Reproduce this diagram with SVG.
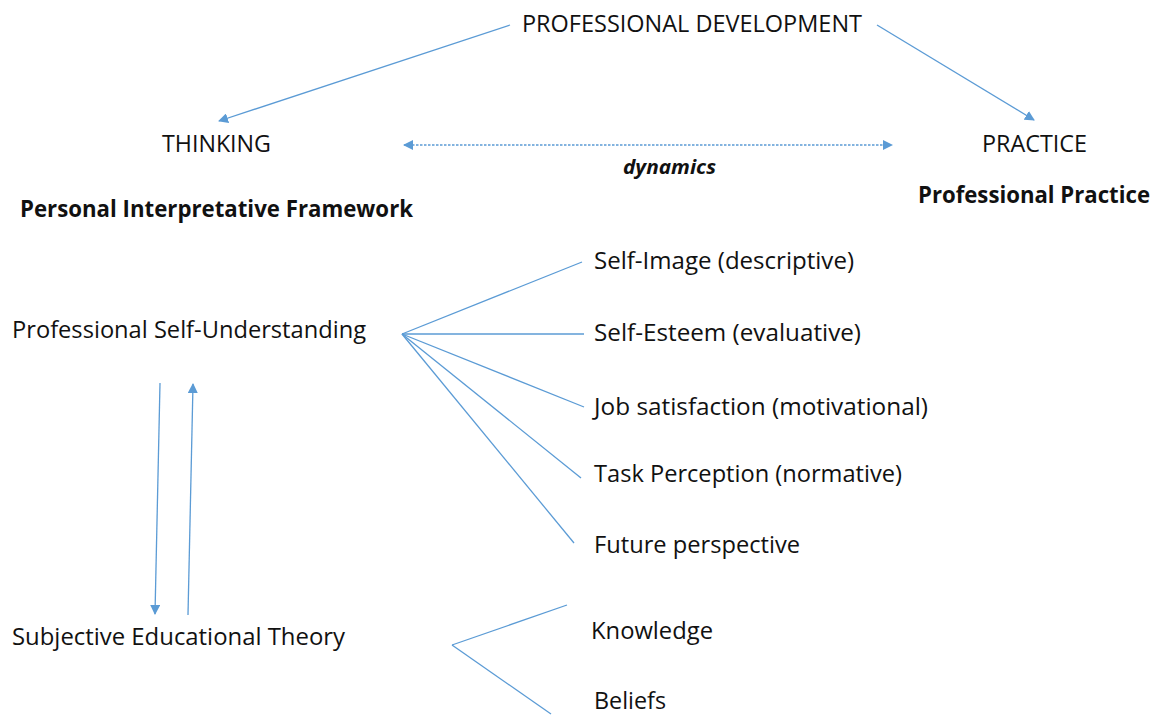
<svg xmlns="http://www.w3.org/2000/svg" width="1159" height="715" viewBox="0 0 1159 715">
<style>
text{font-family:"Open Sans","Liberation Sans",sans-serif;font-size:23px;fill:#111}
.b{font-weight:bold}
.bi{font-weight:bold;font-style:italic;font-size:19px}
.c{stroke:#5b9bd5;stroke-width:1.3;fill:none}
.d{stroke-dasharray:2.5 1.5}
</style>
<defs>
<marker id="ah" viewBox="0 0 10 10" refX="9" refY="5" markerWidth="10" markerHeight="10" markerUnits="userSpaceOnUse" orient="auto-start-reverse">
<path d="M0,0 L10,5 L0,10 z" fill="#5b9bd5"/>
</marker>
</defs>
<rect width="1159" height="715" fill="#fff"/>
<g id="connectors">
<line class="c" x1="510" y1="25" x2="219" y2="121" marker-end="url(#ah)"/>
<line class="c" x1="877" y1="25" x2="1034" y2="120" marker-end="url(#ah)"/>
<line class="c d" x1="404" y1="145" x2="892" y2="145" marker-start="url(#ah)" marker-end="url(#ah)"/>
<line class="c" x1="402" y1="334" x2="582" y2="262"/>
<line class="c" x1="402" y1="334" x2="584" y2="334"/>
<line class="c" x1="402" y1="334" x2="584" y2="407"/>
<line class="c" x1="402" y1="334" x2="581" y2="478"/>
<line class="c" x1="402" y1="334" x2="574" y2="543"/>
<line class="c" x1="160" y1="383" x2="155" y2="614" marker-end="url(#ah)"/>
<line class="c" x1="188" y1="615" x2="193" y2="384" marker-end="url(#ah)"/>
<line class="c" x1="452" y1="645" x2="567" y2="605"/>
<line class="c" x1="452" y1="645" x2="551" y2="714"/>
</g>
<g id="professional-development"><text x="522" y="32" textLength="340" lengthAdjust="spacingAndGlyphs">PROFESSIONAL DEVELOPMENT</text></g>
<g id="thinking"><text x="162" y="152" textLength="109" lengthAdjust="spacingAndGlyphs">THINKING</text></g>
<g id="dynamics"><text class="bi" x="623" y="174" textLength="93" lengthAdjust="spacingAndGlyphs">dynamics</text></g>
<g id="practice"><text x="982" y="152" textLength="105" lengthAdjust="spacingAndGlyphs">PRACTICE</text></g>
<g id="personal-interpretative-framework"><text class="b" x="20" y="217" textLength="393" lengthAdjust="spacingAndGlyphs">Personal Interpretative Framework</text></g>
<g id="professional-practice"><text class="b" x="918" y="203" textLength="232" lengthAdjust="spacingAndGlyphs">Professional Practice</text></g>
<g id="self-image"><text x="594" y="269" textLength="260" lengthAdjust="spacingAndGlyphs">Self-Image (descriptive)</text></g>
<g id="professional-self-understanding"><text x="12" y="338" textLength="354" lengthAdjust="spacingAndGlyphs">Professional Self-Understanding</text></g>
<g id="self-esteem"><text x="594" y="341" textLength="267" lengthAdjust="spacingAndGlyphs">Self-Esteem (evaluative)</text></g>
<g id="job-satisfaction"><text x="594" y="415" textLength="334" lengthAdjust="spacingAndGlyphs">Job satisfaction (motivational)</text></g>
<g id="task-perception"><text x="594" y="482" textLength="308" lengthAdjust="spacingAndGlyphs">Task Perception (normative)</text></g>
<g id="future-perspective"><text x="594" y="553" textLength="206" lengthAdjust="spacingAndGlyphs">Future perspective</text></g>
<g id="subjective-educational-theory"><text x="12" y="645" textLength="333" lengthAdjust="spacingAndGlyphs">Subjective Educational Theory</text></g>
<g id="knowledge"><text x="591" y="639" textLength="122" lengthAdjust="spacingAndGlyphs">Knowledge</text></g>
<g id="beliefs"><text x="594" y="709" textLength="72" lengthAdjust="spacingAndGlyphs">Beliefs</text></g>
</svg>
